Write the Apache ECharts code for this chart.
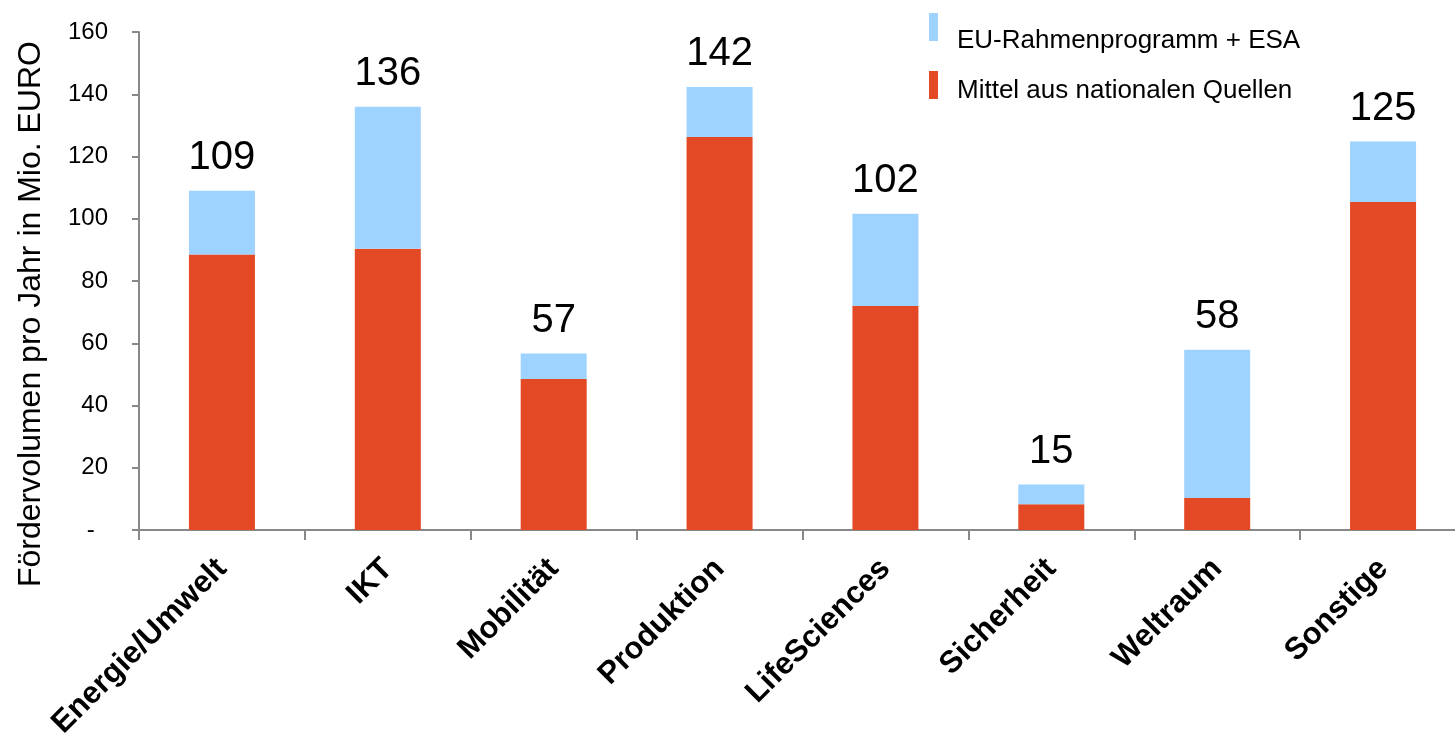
<!DOCTYPE html>
<html>
<head>
<meta charset="utf-8">
<script src="https://cdn.jsdelivr.net/npm/echarts@6/dist/echarts.min.js"></script>
<style>
  html, body { margin: 0; padding: 0; background: #fff; }
  #main { width: 1455px; height: 736px; }
</style>
</head>
<body>
<div id="main"></div>
<script>
// Kategorien und Werte (Mio. EURO pro Jahr)
var categories = ['Energie/Umwelt', 'IKT', 'Mobilität', 'Produktion', 'LifeSciences', 'Sicherheit', 'Weltraum', 'Sonstige'];
var national = [88.5, 90.4, 48.5, 126.3, 72.0, 8.3, 10.3, 105.4];
var euEsa = [20.5, 45.6, 8.2, 16.0, 29.6, 6.3, 47.6, 19.4];
var yTicks = [0, 20, 40, 60, 80, 100, 120, 140, 160];

var nameEu = 'EU-Rahmenprogramm + ESA';
var nameNat = 'Mittel aus nationalen Quellen';
var font = 'Liberation Sans, Arial, Helvetica, sans-serif';

var myChart = echarts.init(document.getElementById('main'));

// Legenden-Text etwas nach unten/rechts schieben
function legendItem(top, padTop, name) {
    return {
        data: [name],
        left: 929,
        top: top,
        padding: 0,
        orient: 'vertical',
        itemWidth: 9,
        itemHeight: 28,
        icon: 'rect',
        formatter: function (n) { return '{t|' + n + '}'; },
        textStyle: {
            fontSize: 26,
            color: '#000',
            fontFamily: font,
            rich: {
                t: { fontSize: 26, color: '#000', fontFamily: font, padding: [padTop, 0, 0, 14] }
            }
        }
    };
}

var option = {
    backgroundColor: '#fff',
    animation: false,
    textStyle: { fontFamily: font },
    legend: [legendItem(13, 28, nameEu), legendItem(71, 11, nameNat)],
    grid: {
        left: 139,
        top: 32,
        right: -11,
        bottom: 206,
        containLabel: false,
        outerBoundsMode: 'none'
    },
    xAxis: {
        type: 'category',
        data: categories,
        axisLine: { lineStyle: { color: '#888', width: 2 } },
        axisTick: { show: true, length: 10, lineStyle: { color: '#888', width: 2 } },
        axisLabel: {
            rotate: 45,
            interval: 0,
            margin: 34,
            fontSize: 31,
            fontWeight: 'bold',
            color: '#000',
            fontFamily: font
        }
    },
    yAxis: {
        type: 'value',
        min: yTicks[0],
        max: yTicks[yTicks.length - 1],
        interval: 20,
        name: 'Fördervolumen pro Jahr in Mio. EURO',
        nameLocation: 'middle',
        nameGap: 92,
        nameTextStyle: { fontSize: 32, color: '#000', fontFamily: font, padding: [0, 66, 0, 0] },
        axisLine: { show: true, lineStyle: { color: '#888', width: 2 } },
        axisTick: { show: true, length: 7, lineStyle: { color: '#888', width: 2 } },
        splitLine: { show: false },
        axisLabel: {
            margin: 31,
            fontSize: 24,
            color: '#000',
            fontFamily: font,
            formatter: function (v) {
                return v === 0 ? '-  ' : String(v);
            }
        }
    },
    series: [{
        name: nameNat,
        type: 'bar',
        stack: 'total',
        barWidth: 66,
        data: national,
        itemStyle: { color: '#e34924' }
    }, {
        name: nameEu,
        type: 'bar',
        stack: 'total',
        barWidth: 66,
        data: euEsa,
        itemStyle: { color: '#9ed3ff' },
        label: {
            show: true,
            position: 'top',
            distance: 13,
            fontSize: 40,
            color: '#000',
            fontFamily: font,
            formatter: function (p) {
                return Math.round(national[p.dataIndex] + euEsa[p.dataIndex]);
            }
        }
    }]
};

myChart.setOption(option);
</script>
</body>
</html>
